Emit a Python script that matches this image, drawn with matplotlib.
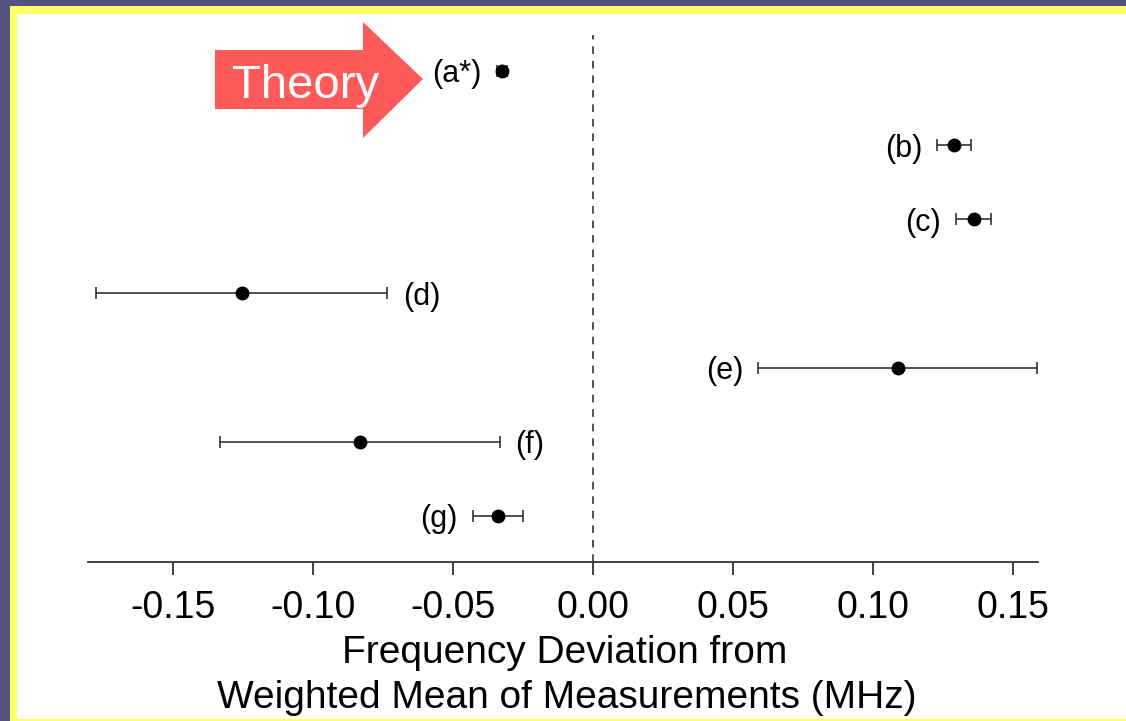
import matplotlib
matplotlib.use("Agg")
import matplotlib.pyplot as plt
from matplotlib.patches import Rectangle, Polygon

plt.rcParams['font.family'] = ['Liberation Sans', 'DejaVu Sans']

# ---- data ----
labels = ["(a*)", "(b)", "(c)", "(d)", "(e)", "(f)", "(g)"]
values = [-0.0326, 0.129, 0.136, -0.1254, 0.1089, -0.0832, -0.0340]
errors = [0.0018, 0.0060, 0.0062, 0.0520, 0.0498, 0.0500, 0.0090]
rows = [7, 6, 5, 4, 3, 2, 1]
label_side = ["left", "left", "left", "right", "left", "right", "left"]
tick_values = [-0.15, -0.10, -0.05, 0.00, 0.05, 0.10, 0.15]
tick_labels = ["-0.15", "-0.10", "-0.05", "0.00", "0.05", "0.10", "0.15"]
xlabel_lines = ["Frequency Deviation from", "Weighted Mean of Measurements (MHz)"]
arrow_text = "Theory"

W, H = 1126, 721
fig = plt.figure(figsize=(W / 100, H / 100), dpi=100)
fig.patch.set_facecolor("#53537F")

def fx(x):
    return x / W

def fy(y):
    return (H - y) / H

# frame: yellow band and white panel
fig.patches.append(Rectangle((fx(10), 0), 1 - fx(10), fy(6), transform=fig.transFigure,
                             facecolor="#FFFF66", edgecolor="none", zorder=-3))
fig.patches.append(Rectangle((fx(17), fy(719)), 1 - fx(17), fy(14) - fy(719),
                             transform=fig.transFigure, facecolor="white",
                             edgecolor="none", zorder=-2))

ax = fig.add_axes([fx(88), fy(562), (1038 - 88) / W, (562 - 35) / H])
ax.set_facecolor("none")
ax.set_xlim(-0.18036, 0.15893)
ax.set_ylim(0.38, 7.485)

ax.errorbar(values, rows, xerr=errors, fmt="o", color="black", ecolor="#222222",
            markersize=9, elinewidth=1.1, capsize=4.3, capthick=1.1, zorder=3)

ax.axvline(0, color="#222222", linestyle=(0, (5, 4.5)), linewidth=1.1, zorder=1)

gap = 11
for lab, v, e, r, side in zip(labels, values, errors, rows, label_side):
    if side == "left":
        ax.annotate(lab, xy=(v - e, r), xytext=(-gap, -2.5), textcoords="offset points",
                    ha="right", va="center", fontsize=22, color="black")
    else:
        ax.annotate(lab, xy=(v + e, r), xytext=(gap, -2.5), textcoords="offset points",
                    ha="left", va="center", fontsize=22, color="black")

for s in ["top", "right", "left"]:
    ax.spines[s].set_visible(False)
ax.spines["bottom"].set_color("#333333")
ax.spines["bottom"].set_linewidth(1.3)
ax.set_yticks([])
ax.set_xticks(tick_values)
ax.set_xticklabels(tick_labels)
ax.tick_params(axis="x", direction="out", length=9.5, width=1.3, color="#333333",
               labelsize=27, pad=11)

# x label as two centered lines
fig.text(fx(565), fy(663), xlabel_lines[0], ha="center", va="baseline", fontsize=28)
fig.text(fx(567), fy(708), xlabel_lines[1], ha="center", va="baseline", fontsize=28)

# Theory arrow
arrow_px = [(215, 50), (363, 50), (363, 22), (423, 79), (363, 138), (363, 109), (215, 109)]
fig.patches.append(Polygon([(fx(x), fy(y)) for x, y in arrow_px], closed=True,
                           transform=fig.transFigure, facecolor="#FF5A5A",
                           edgecolor="none", zorder=2))
fig.text(fx(306), fy(98), arrow_text, ha="center", va="baseline", fontsize=34,
         color="white", zorder=5)

fig.savefig("out.png", dpi=100, facecolor=fig.get_facecolor())
